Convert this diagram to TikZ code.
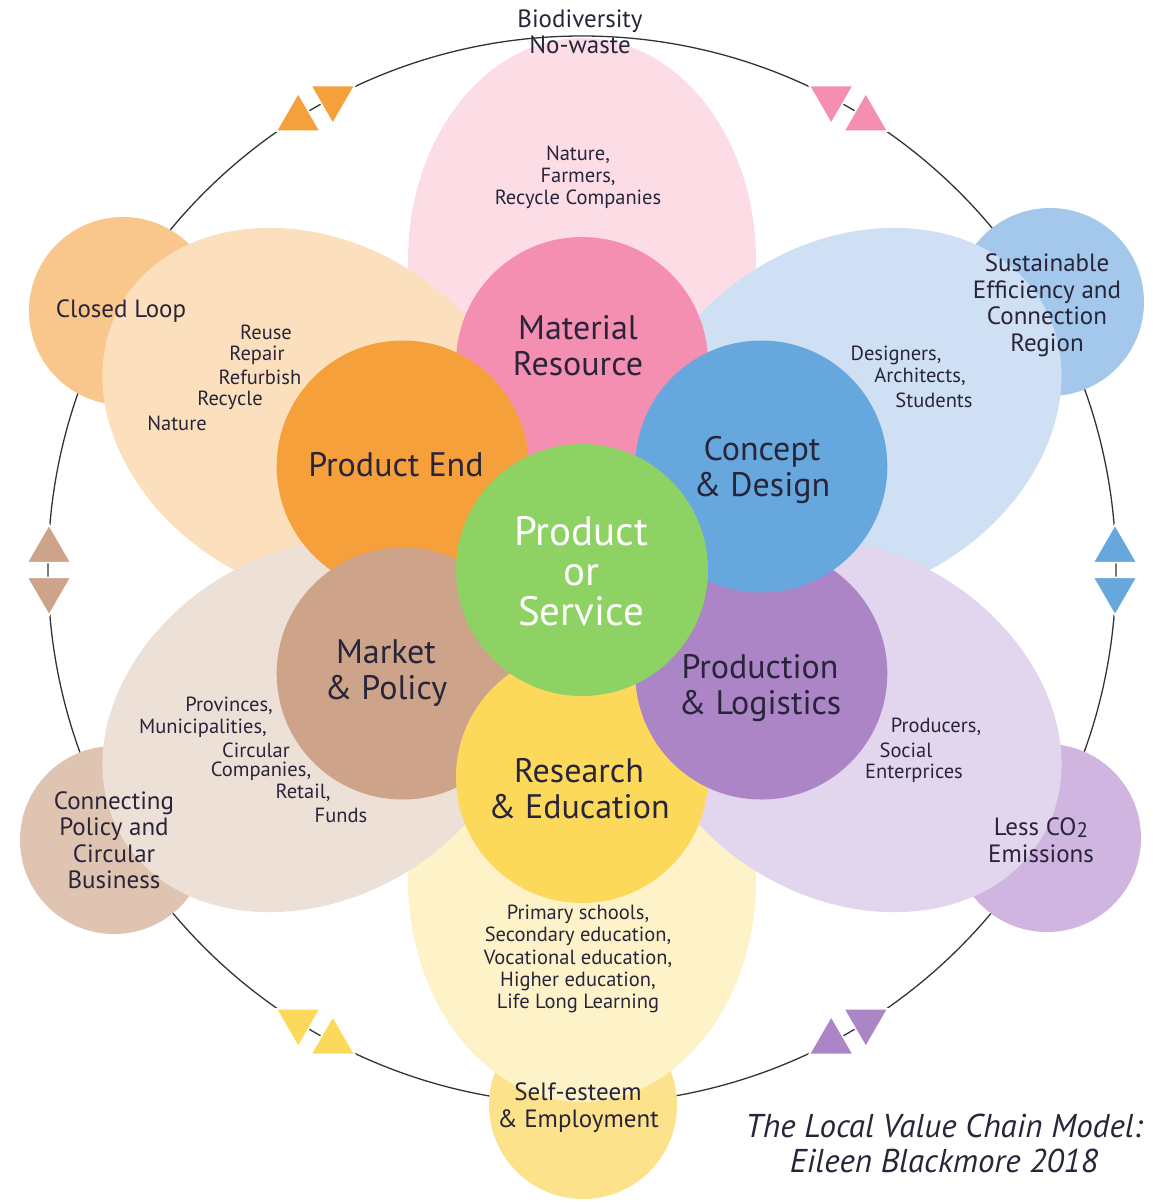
\documentclass[tikz,border=0pt]{standalone}
\usepackage{fontspec}
\setmainfont{PT Sans}
\usetikzlibrary{shapes.geometric}
\definecolor{txt}{HTML}{28253A}
\definecolor{ringc}{HTML}{333333}
\definecolor{cGreen}{HTML}{8DD263}
\definecolor{cPink}{HTML}{F48FB1}
\definecolor{cPinkL}{HTML}{FCDDE6}
\definecolor{cOrange}{HTML}{F6A03C}
\definecolor{cOrangeL}{HTML}{FCE0BD}
\definecolor{cOrangeM}{HTML}{F9C68B}
\definecolor{cBlue}{HTML}{66A8DD}
\definecolor{cBlueL}{HTML}{CFE0F5}
\definecolor{cBlueM}{HTML}{A4C8EB}
\definecolor{cPurple}{HTML}{AB85C6}
\definecolor{cPurpleL}{HTML}{E2D5EE}
\definecolor{cPurpleM}{HTML}{CFB5DF}
\definecolor{cYellow}{HTML}{FCD95B}
\definecolor{cYellowL}{HTML}{FEF3C8}
\definecolor{cYellowM}{HTML}{FCE38B}
\definecolor{cBrown}{HTML}{CDA38A}
\definecolor{cBrownL}{HTML}{EDE0D7}
\definecolor{cBrownM}{HTML}{DFC4B2}
\newcommand\tup[3]{\filldraw[tri, fill=#3] (#1-22,#2+12.7) -- (#1+22,#2+12.7) -- (#1,#2-25.3) -- cycle;}
\newcommand\tdown[3]{\filldraw[tri, fill=#3] (#1-22,#2-12.7) -- (#1+22,#2-12.7) -- (#1,#2+25.3) -- cycle;}
\begin{document}
\begin{tikzpicture}[x=1pt,y=-1pt,
  petal/.style={ellipse, draw=none, inner sep=0pt, minimum width=444pt, minimum height=348pt},
  hub/.style={circle, draw=none, inner sep=0pt, minimum size=252pt},
  outer/.style={circle, draw=none, inner sep=0pt, minimum size=188pt},
  big/.style={text=txt, align=center, inner sep=0pt, font=\fontsize{34}{36}\selectfont},
  mid/.style={text=txt, align=center, inner sep=0pt, font=\fontsize{25}{26.5}\selectfont},
  small/.style={text=txt, align=center, inner sep=0pt, font=\fontsize{20.5}{22.2}\selectfont},
  tri/.style={draw=white, line width=1.5pt, line join=miter}
]
\useasboundingbox (0,0) rectangle (1153,1203);
\coordinate (C) at (582,570);
\draw[ringc, line width=1.3pt] (C) circle[radius=534pt];
% outer circles
\node[outer, fill=cOrangeM] (oClosed) at (123,311) {};
\node[outer, fill=cBlueM] (oSust) at (1050,302) {};
\node[outer, fill=cBrownM] (oConn) at (114,840) {};
\node[outer, fill=cPurpleM] (oLess) at (1047,838) {};
\node[outer, fill=cYellowM] (oSelf) at (583,1105) {};
% petals
\node[petal, fill=cPinkL, rotate=90] (pPink) at (582,260) {};
\node[petal, fill=cYellowL, rotate=90] (pYellow) at (582,880) {};
\node[petal, fill=cOrangeL, rotate=-30] (pOrange) at (313.5,415) {};
\node[petal, fill=cBlueL, rotate=30] (pBlue) at (850.5,415) {};
\node[petal, fill=cBrownL, rotate=30] (pBrown) at (313.5,725) {};
\node[petal, fill=cPurpleL, rotate=-30] (pPurple) at (850.5,725) {};
% hubs
\node[hub, fill=cPink] (hMat) at (582,363) {};
\node[hub, fill=cOrange] (hEnd) at (402.7,466.5) {};
\node[hub, fill=cBrown] (hMark) at (402.7,673.5) {};
\node[hub, fill=cYellow] (hRes) at (582,777) {};
\node[hub, fill=cPurple] (hProd) at (761.3,673.5) {};
\node[hub, fill=cBlue] (hConc) at (761.3,466.5) {};
\node[hub, fill=cGreen] (hCore) at (C) {};
% triangles
\tup{298.2}{118.4}{cOrange}
\tdown{332.8}{98.4}{cOrange}
\tdown{831.2}{98.4}{cPink}
\tup{865.8}{118.4}{cPink}
\tup{49}{550}{cBrown}
\tdown{49}{590}{cBrown}
\tup{1115}{550}{cBlue}
\tdown{1115}{590}{cBlue}
\tdown{298.2}{1021.6}{cYellow}
\tup{332.8}{1041.6}{cYellow}
\tup{831.2}{1041.6}{cPurple}
\tdown{865.8}{1021.6}{cPurple}
% texts
\node[mid] (tBio) at (580,32) {Biodiversity\\No-waste};
\node[small] (tNat) at (578,177.5) {Nature,\\Farmers,\\Recycle Companies};
\node[big] (tMat) at (578,346) {Material\\Resource};
\node[mid] (tClosed) at (121,311) {Closed Loop};
\node[small] (r1) at (266,332) {Reuse};
\node[small] (r2) at (257,355) {Repair};
\node[small] (r3) at (260,377) {Refurbish};
\node[small] (r4) at (230,400) {Recycle};
\node[small] (r5) at (177,423) {Nature};
\node[big] (tEnd) at (396,465) {Product End};
\node[mid] (tSust) at (1047,305) {Sustainable\\Efficiency and\\Connection\\Region};
\node[small] (d1) at (896,355) {Designers,};
\node[small] (d2) at (920,377) {Architects,};
\node[small] (d3) at (934,400) {Students};
\node[big] (tConc) at (762,470) {Concept\\\& Design};
\node[text=white, align=center, inner sep=0pt, font=\fontsize{41}{40}\selectfont] (tCore) at (581,571) {Product\\or\\Service};
\node[big] (tMark) at (386,673) {Market\\\& Policy};
\node[small] (m1) at (229,706) {Provinces,};
\node[small] (m2) at (203,728) {Municipalities,};
\node[small] (m3) at (256,750) {Circular};
\node[small] (m4) at (261,771) {Companies,};
\node[small] (m5) at (303,793) {Retail,};
\node[small] (m6) at (341,815) {Funds};
\node[big] (tProd) at (760,688) {Production\\\& Logistics};
\node[small] (q1) at (936,727) {Producers,};
\node[small] (q2) at (906,750) {Social};
\node[small] (q3) at (914,773) {Enterprices};
\node[big] (tRes) at (579,789) {Research\\\& Education};
\node[small] (tEdu) at (578,959) {Primary schools,\\Secondary education,\\Vocational education,\\Higher education,\\Life Long Learning};
\node[mid] (tConn) at (114,840) {Connecting\\Policy and\\Circular\\Business};
\node[mid] (tLess) at (1041,840) {Less CO\raisebox{-2pt}{\fontsize{21}{21}\selectfont 2}\\Emissions};
\node[mid] (tSelf) at (578,1107.5) {Self-esteem\\\& Employment};
\node[text=txt, align=center, inner sep=0pt, font=\fontsize{33}{35}\selectfont\itshape] (tTitle) at (944,1143) {The Local Value Chain Model:\\Eileen Blackmore 2018};
\end{tikzpicture}
\end{document}
